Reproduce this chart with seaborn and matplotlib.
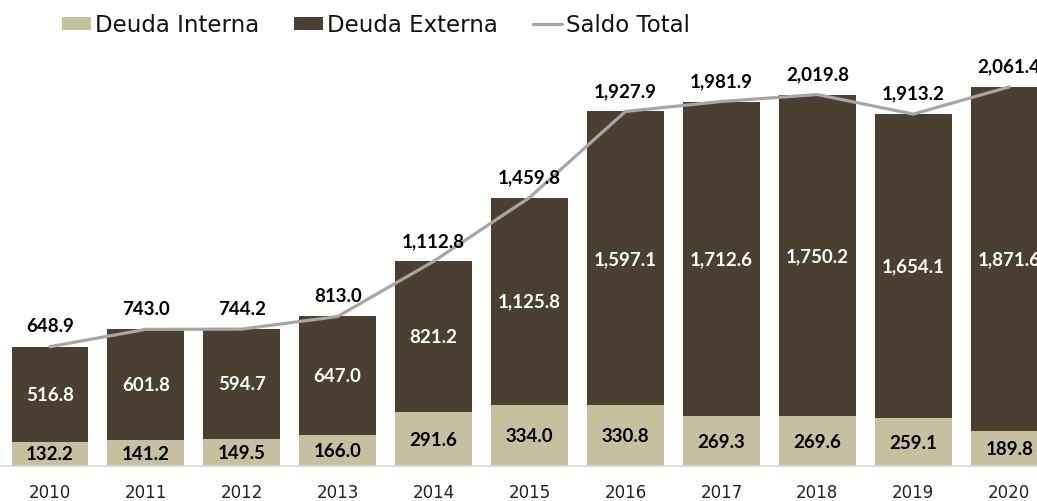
import numpy as np
import pandas as pd
import matplotlib
matplotlib.use("Agg")
import matplotlib.pyplot as plt
import seaborn as sns
from matplotlib.patches import Patch
from matplotlib.lines import Line2D

years = ["2010", "2011", "2012", "2013", "2014", "2015", "2016", "2017", "2018", "2019", "2020"]
deuda_interna = [132.2, 141.2, 149.5, 166.0, 291.6, 334.0, 330.8, 269.3, 269.6, 259.1, 189.8]
deuda_externa = [516.8, 601.8, 594.7, 647.0, 821.2, 1125.8, 1597.1, 1712.6, 1750.2, 1654.1, 1871.6]
saldo_total = [648.9, 743.0, 744.2, 813.0, 1112.8, 1459.8, 1927.9, 1981.9, 2019.8, 1913.2, 2061.4]

c_int = "#C5C1A0"
c_ext = "#4A3F31"
c_line = "#A6A6A6"

sns.set_theme(style="white")
plt.rcParams["font.family"] = ["DejaVu Sans"]

df = pd.DataFrame({
    "year": years,
    "interna": deuda_interna,
    "externa": deuda_externa,
    "total": saldo_total,
})
df["stack"] = df["interna"] + df["externa"]

fig = plt.figure(figsize=(10.37, 5.02), dpi=100)
ax = fig.add_axes([0, 1 - 467 / 502, 1, (467 - 60) / 502])

sns.barplot(data=df, x="year", y="stack", color=c_ext, width=0.8, ax=ax,
            saturation=1, linewidth=0, order=years)
sns.barplot(data=df, x="year", y="interna", color=c_int, width=0.8, ax=ax,
            saturation=1, linewidth=0, order=years)
pos = np.arange(len(years))
sns.lineplot(x=pos, y=df["total"].values, color=c_line, linewidth=2.3, ax=ax,
             zorder=5)

ax.set_xlim(-0.52, 10.29)
ax.set_ylim(0, 2213)
ax.set_xlabel("")
ax.set_ylabel("")
ax.set_yticks([])
for s in ["top", "right", "left"]:
    ax.spines[s].set_visible(False)
ax.spines["bottom"].set_color("#D9D9D9")
ax.spines["bottom"].set_linewidth(1.2)
ax.tick_params(axis="x", length=0, pad=12, labelsize=12, labelcolor="#222222")

lab_font = ["Lato", "DejaVu Sans"]
fs = 13.5
for i in range(len(years)):
    ax.text(pos[i], deuda_interna[i] / 2, f"{deuda_interna[i]:,.1f}", ha="center",
            va="center", fontsize=fs, fontweight="bold", color="black", zorder=6,
            family=lab_font)
    ax.text(pos[i], deuda_interna[i] + deuda_externa[i] / 2, f"{deuda_externa[i]:,.1f}",
            ha="center", va="center", fontsize=fs, fontweight="bold", color="white",
            zorder=6, family=lab_font)
    ax.text(pos[i], saldo_total[i] + 114, f"{saldo_total[i]:,.1f}", ha="center",
            va="center", fontsize=fs, fontweight="bold", color="black", zorder=6,
            family=lab_font)

handles = [Patch(facecolor=c_int, edgecolor="none", label="Deuda Interna"),
           Patch(facecolor=c_ext, edgecolor="none", label="Deuda Externa"),
           Line2D([0], [0], color=c_line, linewidth=2.3, label="Saldo Total")]
fig.legend(handles=handles, loc="center left", bbox_to_anchor=(62 / 1037, 1 - 26 / 502),
           ncol=3, frameon=False, fontsize=16.5, handlelength=1.27, handleheight=0.52,
           handletextpad=0.17, columnspacing=1.53, borderaxespad=0, borderpad=0,
           labelcolor="#111111")

fig.savefig("out.png", dpi=100)
